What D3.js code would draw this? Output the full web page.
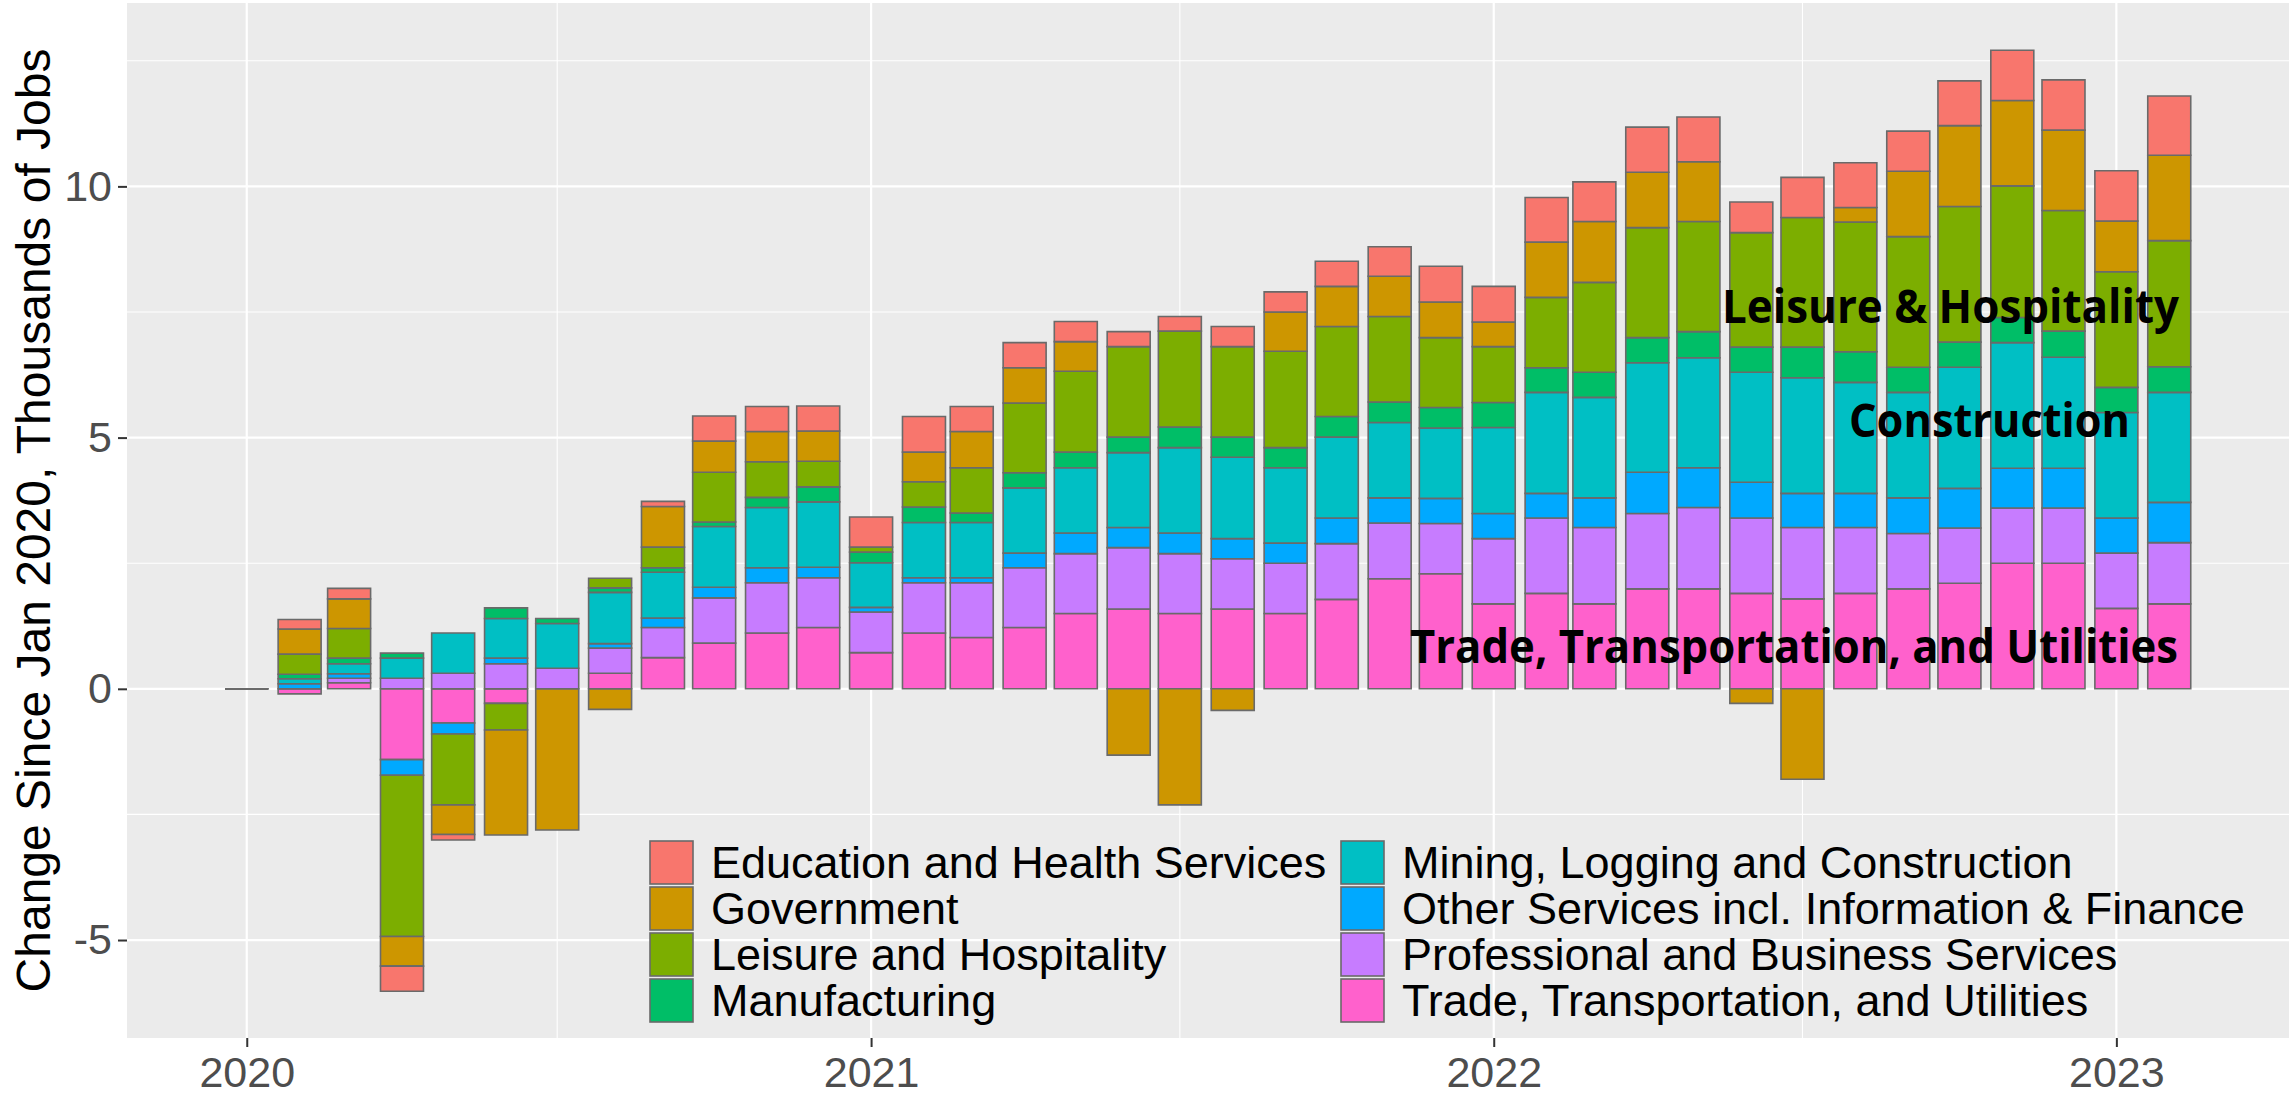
<!DOCTYPE html>
<html>
<head>
<meta charset="utf-8">
<script src="https://cdn.jsdelivr.net/npm/d3@7"></script>
<style>
  body { margin: 0; background: #fff; }
  svg { display: block; font-family: "Liberation Sans", Arial, sans-serif; }
</style>
</head>
<body>
<svg id="chart"></svg>
<script>
const W = 2292, H = 1096;

// monthly change since Jan 2020, thousands of jobs
const months = [
  "2020-01", "2020-02", "2020-03", "2020-04", "2020-05", "2020-06", "2020-07", "2020-08", "2020-09", "2020-10", "2020-11", "2020-12",
  "2021-01", "2021-02", "2021-03", "2021-04", "2021-05", "2021-06", "2021-07", "2021-08", "2021-09", "2021-10", "2021-11", "2021-12",
  "2022-01", "2022-02", "2022-03", "2022-04", "2022-05", "2022-06", "2022-07", "2022-08", "2022-09", "2022-10", "2022-11", "2022-12",
  "2023-01", "2023-02"
];

const education = [0, 0.19, 0.21, -0.5, -0.11, 0, 0, 0, 0.1, 0.5, 0.5, 0.5,
  0.6, 0.71, 0.5, 0.5, 0.4, 0.3, 0.29, 0.4, 0.4, 0.5, 0.59, 0.71,
  0.71, 0.89, 0.79, 0.9, 0.89, 0.61, 0.8, 0.89, 0.8, 0.89, 1.0, 1.0,
  1.0, 1.18];
const government = [0, 0.5, 0.59, -0.59, -0.59, -2.09, -2.81, -0.41, 0.81, 0.62, 0.6, 0.6,
  0, 0.59, 0.72, 0.7, 0.59, -1.32, -2.31, -0.43, 0.78, 0.8, 0.8, 0.71,
  0.49, 1.1, 1.21, 1.1, 1.19, -0.29, -1.8, 0.29, 1.3, 1.61, 1.7, 1.6,
  1.01, 1.7];
const leisure = [0, 0.4, 0.59, -3.21, -1.41, -0.53, 0, 0.19, 0.41, 0.99, 0.71, 0.51,
  0.1, 0.5, 0.9, 1.39, 1.61, 1.8, 1.91, 1.8, 1.92, 1.79, 1.7, 1.39,
  1.11, 1.4, 1.79, 2.19, 2.19, 2.28, 2.58, 2.58, 2.6, 2.7, 2.62, 2.4,
  2.3, 2.51];
const manufacturing = [0, 0.09, 0.11, 0.1, 0, 0.21, 0.1, 0.09, 0.09, 0.09, 0.2, 0.3,
  0.21, 0.31, 0.19, 0.3, 0.31, 0.31, 0.41, 0.4, 0.4, 0.41, 0.41, 0.41,
  0.5, 0.49, 0.5, 0.5, 0.52, 0.5, 0.61, 0.61, 0.5, 0.5, 0.5, 0.52,
  0.5, 0.51];
const mining = [0, 0.1, 0.2, 0.4, 0.8, 0.79, 0.89, 1.02, 0.91, 1.21, 1.2, 1.3,
  0.89, 1.1, 1.1, 1.3, 1.3, 1.49, 1.7, 1.62, 1.5, 1.61, 1.5, 1.4,
  1.71, 2.01, 2.0, 2.18, 2.19, 2.19, 2.3, 2.21, 2.1, 2.41, 2.5, 2.21,
  2.1, 2.19];
const otherServices = [0, 0.1, 0.09, -0.31, -0.22, 0.11, 0, 0.09, 0.19, 0.21, 0.3, 0.21,
  0.09, 0.1, 0.1, 0.29, 0.41, 0.4, 0.41, 0.4, 0.4, 0.51, 0.5, 0.5,
  0.5, 0.49, 0.59, 0.82, 0.79, 0.71, 0.68, 0.68, 0.71, 0.79, 0.79, 0.79,
  0.7, 0.8];
const professional = [0, 0, 0.09, 0.21, 0.31, 0.5, 0.41, 0.5, 0.6, 0.9, 1.0, 0.99,
  0.81, 1.0, 1.09, 1.19, 1.19, 1.22, 1.19, 1.0, 1.0, 1.11, 1.11, 1.0,
  1.3, 1.5, 1.52, 1.5, 1.62, 1.5, 1.42, 1.31, 1.1, 1.1, 1.1, 1.1,
  1.1, 1.22];
const trade = [0, -0.1, 0.12, -1.41, -0.68, -0.29, 0, 0.31, 0.62, 0.91, 1.11, 1.22,
  0.72, 1.11, 1.02, 1.22, 1.5, 1.59, 1.5, 1.59, 1.5, 1.78, 2.19, 2.29,
  1.69, 1.9, 1.69, 1.99, 1.99, 1.9, 1.79, 1.9, 1.99, 2.1, 2.5, 2.5,
  1.6, 1.69];

const sectorNames = [
  "Education and Health Services",
  "Government",
  "Leisure and Hospitality",
  "Manufacturing",
  "Mining, Logging and Construction",
  "Other Services incl. Information & Finance",
  "Professional and Business Services",
  "Trade, Transportation, and Utilities"
];
const sectorColors = ["#F8766D", "#CD9600", "#7CAE00", "#00BE67", "#00BFC4", "#00A9FF", "#C77CFF", "#FF61CC"];
const sectorValues = [education, government, leisure, manufacturing, mining, otherServices, professional, trade];

const yMajor = [-5, 0, 5, 10];
const yMinor = [-2.5, 2.5, 7.5, 12.5];
const yearTicks = ["2020-01", "2021-01", "2022-01", "2023-01"];
const midYears = ["2020-07", "2021-07", "2022-07"];

const annotations = [
  { text: "Leisure & Hospitality", x: 2179, y: 323, len: 457 },
  { text: "Construction", x: 2130, y: 437, len: 281 },
  { text: "Trade, Transportation, and Utilities", x: 2178, y: 663, len: 768 }
];

const parseMonth = d3.utcParse("%Y-%m");
const DAY = 864e5;

// table for d3.stack
const rows = months.map((m, i) => {
  const row = { date: parseMonth(m) };
  sectorNames.forEach((s, k) => { row[s] = sectorValues[k][i]; });
  return row;
});

const panel = { left: 127, top: 3, right: 2289, bottom: 1038 };

const first = rows[0].date, last = rows[rows.length - 1].date;
const x = d3.scaleUtc()
  .domain([new Date(first.getTime() - 70.2 * DAY), new Date(last.getTime() + 70.2 * DAY)])
  .range([panel.left, panel.right]);

const y = d3.scaleLinear()
  .domain([-6.95, 13.65])
  .range([panel.bottom, panel.top]);

const color = d3.scaleOrdinal().domain(sectorNames).range(sectorColors);

// ggplot stacks the first level on top, so reverse for d3
const stackKeys = sectorNames.slice().reverse();
const series = d3.stack()
  .keys(stackKeys)
  .offset(d3.stackOffsetDiverging)(rows);

const halfBar = (x(new Date(first.getTime() + 12.6 * DAY)) - x(first));

const svg = d3.select("#chart").attr("width", W).attr("height", H);

svg.append("rect")
  .attr("x", panel.left).attr("y", panel.top)
  .attr("width", panel.right - panel.left).attr("height", panel.bottom - panel.top)
  .attr("fill", "#EBEBEB");

const grid = svg.append("g");
grid.selectAll(".ymin").data(yMinor).join("line")
  .attr("x1", panel.left).attr("x2", panel.right)
  .attr("y1", d => y(d)).attr("y2", d => y(d))
  .attr("stroke", "#fff").attr("stroke-width", 1.1);
grid.selectAll(".xmin").data(midYears).join("line")
  .attr("x1", d => x(parseMonth(d))).attr("x2", d => x(parseMonth(d)))
  .attr("y1", panel.top).attr("y2", panel.bottom)
  .attr("stroke", "#fff").attr("stroke-width", 1.1);
grid.selectAll(".ymaj").data(yMajor).join("line")
  .attr("x1", panel.left).attr("x2", panel.right)
  .attr("y1", d => y(d)).attr("y2", d => y(d))
  .attr("stroke", "#fff").attr("stroke-width", 2.2);
grid.selectAll(".xmaj").data(yearTicks).join("line")
  .attr("x1", d => x(parseMonth(d))).attr("x2", d => x(parseMonth(d)))
  .attr("y1", panel.top).attr("y2", panel.bottom)
  .attr("stroke", "#fff").attr("stroke-width", 2.2);

// bars as paths so zero-height segments still show their outline
const segPath = (d) => {
  const cx = x(d.data.date);
  const y0 = y(d[0]), y1 = y(d[1]);
  return `M${cx - halfBar},${y1}H${cx + halfBar}V${y0}H${cx - halfBar}Z`;
};

svg.append("g")
  .selectAll("g")
  .data(series)
  .join("g")
  .attr("fill", s => color(s.key))
  .selectAll("path")
  .data(s => s)
  .join("path")
  .attr("d", segPath)
  .attr("stroke", "#6A6A6A")
  .attr("stroke-width", 1.6);

// axes
const yAxis = svg.append("g")
  .attr("transform", `translate(${panel.left},0)`)
  .call(d3.axisLeft(y).tickValues(yMajor).tickSize(9).tickPadding(6).tickFormat(d => String(d)));
const xAxis = svg.append("g")
  .attr("transform", `translate(0,${panel.bottom})`)
  .call(d3.axisBottom(x).tickValues(yearTicks.map(parseMonth)).tickSize(9).tickPadding(9)
    .tickFormat(d3.utcFormat("%Y")));

[yAxis, xAxis].forEach(g => {
  g.select(".domain").remove();
  g.selectAll(".tick line").attr("stroke", "#333").attr("stroke-width", 2);
  g.selectAll(".tick text")
    .attr("fill", "#4D4D4D")
    .style("font-size", "43px")
    .style("font-family", '"Liberation Sans", Arial, sans-serif');
});

svg.append("text")
  .attr("transform", `translate(50,${(panel.top + panel.bottom) / 2}) rotate(-90)`)
  .attr("text-anchor", "middle")
  .style("font-size", "48px")
  .text("Change Since Jan 2020, Thousands of Jobs");

// legend, two columns inside the panel
const legend = svg.append("g");
const items = legend.selectAll("g")
  .data(sectorNames)
  .join("g")
  .attr("transform", (d, i) => `translate(${i < 4 ? 650 : 1341},${841 + (i % 4) * 46})`);
items.append("rect")
  .attr("width", 43).attr("height", 43)
  .attr("fill", d => color(d))
  .attr("stroke", "#6A6A6A").attr("stroke-width", 1.6);
items.append("text")
  .attr("x", 61).attr("y", 21.5)
  .attr("dominant-baseline", "central")
  .style("font-size", "45px")
  .text(d => d);

// bold callouts
svg.append("g")
  .selectAll("text")
  .data(annotations)
  .join("text")
  .attr("x", d => d.x).attr("y", d => d.y)
  .attr("text-anchor", "end")
  .attr("textLength", d => d.len)
  .attr("lengthAdjust", "spacingAndGlyphs")
  .style("font-family", '"Open Sans", sans-serif')
  .style("font-weight", 700)
  .style("font-size", "47px")
  .text(d => d.text);
</script>
</body>
</html>
